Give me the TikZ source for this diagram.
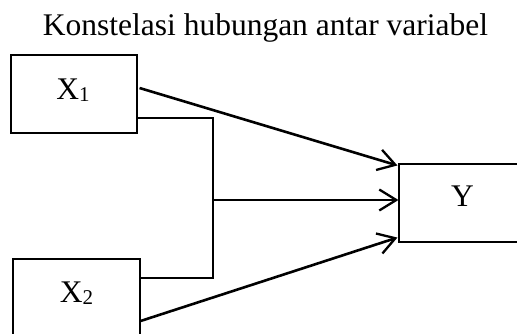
\documentclass[tikz,border=0pt]{standalone}
\usepackage{fontspec}
\setmainfont{Liberation Serif}
\usetikzlibrary{arrows.meta,calc}
\newcommand{\subdigit}[1]{{\fontsize{21}{21}\selectfont\raisebox{-2pt}{#1}}}
\begin{document}
\begin{tikzpicture}[x=1pt,y=-1pt,
  box/.style={draw,line width=1.1pt,inner sep=0pt},
  lab/.style={anchor=base,inner sep=0pt,font=\fontsize{31.5}{32}\selectfont},
  link/.style={line width=2pt},
  arr/.style={line width=2.6pt,-{Straight Barb[length=17pt,width=21pt,line width=2.3pt]}}]
\useasboundingbox (0,0) rectangle (517,333);
% title
\node[lab] (title) at (265.5,35) {Konstelasi hubungan antar variabel};
% boxes
\node[box,minimum width=126pt,minimum height=78pt] (x1) at (74,94) {};
\node[box,minimum width=127pt,minimum height=82pt] (x2) at (76.5,300) {};
\node[box,minimum width=128pt,minimum height=78pt] (y) at (463,203) {};
% labels
\node[lab] (x1lab) at (73,99) {X\subdigit{1}};
\node[lab] (x2lab) at (76.5,302) {X\subdigit{2}};
\node[lab] (ylab) at (462.5,206) {Y};
% joint connector from both variables
\coordinate (j1) at (213,118);
\coordinate (j2) at (213,278);
\coordinate (jm) at (213,200);
\draw[link] (x1.east |- j1) -- (j1) -- (j2) -- (x2.east |- j2);
% arrows to Y
\draw[arr] ([xshift=2pt,yshift=6pt]x1.east) -- ([xshift=-1pt,yshift=-2pt]y.north west);
\draw[arr] (jm) -- (y.west |- jm);
\draw[arr] ([yshift=-21pt]x2.east) -- ([xshift=-1pt,yshift=5pt]y.south west);
\end{tikzpicture}
\end{document}
